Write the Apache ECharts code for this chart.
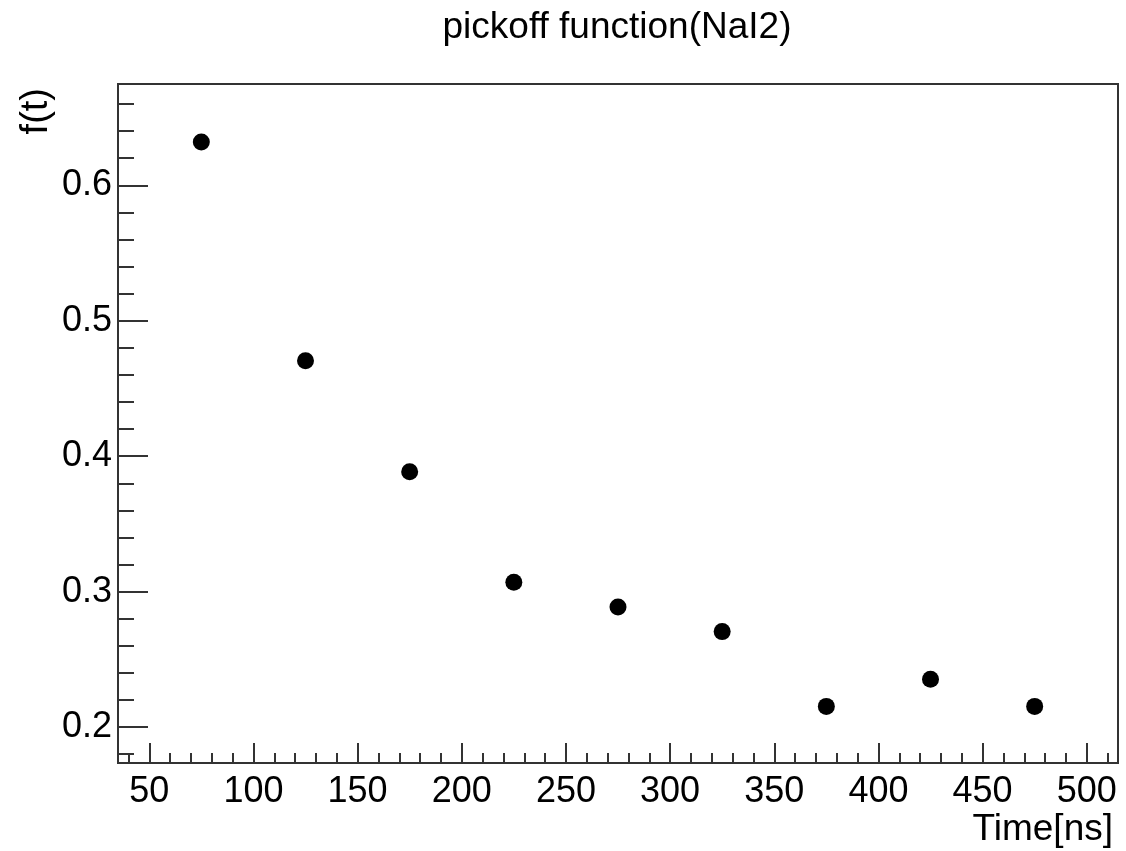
<!DOCTYPE html>
<html>
<head>
<meta charset="utf-8">
<script src="https://cdn.jsdelivr.net/npm/echarts@6/dist/echarts.min.js"></script>
<style>
html,body{margin:0;padding:0;background:#fff;}
#chart{width:1126px;height:851px;}
</style>
</head>
<body>
<div id="chart"></div>
<script>
// Data
var times = [75, 125, 175, 225, 275, 325, 375, 425, 475];
var fValues = [0.632, 0.4705, 0.3885, 0.307, 0.2887, 0.2705, 0.2153, 0.2353, 0.2153];

// Tick labels / positions
var xMajorTicks = [50, 100, 150, 200, 250, 300, 350, 400, 450, 500];
var xMinorTicks = [40, 50, 60, 70, 80, 90, 100, 110, 120, 130, 140, 150, 160, 170, 180, 190, 200, 210, 220, 230, 240, 250, 260, 270, 280, 290, 300, 310, 320, 330, 340, 350, 360, 370, 380, 390, 400, 410, 420, 430, 440, 450, 460, 470, 480, 490, 500, 510];
var yMajorTicks = [0.2, 0.3, 0.4, 0.5, 0.6];
var yMinorTicks = [0.18, 0.2, 0.22, 0.24, 0.26, 0.28, 0.3, 0.32, 0.34, 0.36, 0.38, 0.4, 0.42, 0.44, 0.46, 0.48, 0.5, 0.52, 0.54, 0.56, 0.58, 0.6, 0.62, 0.64, 0.66];

var xRange = [35, 515];
var yRange = [0.1735, 0.6748];

var FONT = '"Liberation Sans", Arial, Helvetica, sans-serif';
var AX = '#333';

var chart = echarts.init(document.getElementById('chart'), null, {renderer: 'canvas'});

var option = {
  backgroundColor: '#ffffff',
  animation: false,
  title: {
    text: 'pickoff function(NaI2)',
    left: 612,
    top: 4,
    textAlign: 'center',
    textStyle: {fontFamily: FONT, fontSize: 37, fontWeight: 'normal', color: '#000'}
  },
  grid: {
    left: 118, right: 8, top: 84, bottom: 88,
    show: true, borderColor: AX, borderWidth: 2, backgroundColor: 'transparent'
  },
  xAxis: [
    {
      type: 'value', min: xRange[0], max: xRange[1], position: 'bottom',
      name: 'Time[ns]', nameLocation: 'end', nameGap: -5,
      nameTextStyle: {fontFamily: FONT, fontSize: 37, color: '#000', align: 'right', verticalAlign: 'top', padding: [48, 0, 0, 0]},
      axisLine: {show: true, onZero: false, lineStyle: {color: AX, width: 2}},
      axisTick: {show: true, inside: true, length: 20, customValues: xMajorTicks, lineStyle: {color: AX, width: 2}},
      axisLabel: {show: true, customValues: xMajorTicks, margin: 11, fontFamily: FONT, fontSize: 36, color: '#000'},
      splitLine: {show: false}
    },
    {
      type: 'value', min: xRange[0], max: xRange[1], position: 'bottom', offset: 0,
      axisLine: {show: false},
      axisTick: {show: true, inside: true, length: 10, customValues: xMinorTicks, lineStyle: {color: AX, width: 2}},
      axisLabel: {show: false},
      splitLine: {show: false}
    }
  ],
  yAxis: [
    {
      type: 'value', min: yRange[0], max: yRange[1], position: 'left',
      name: 'f(t)', nameLocation: 'end', nameGap: -4, nameRotate: 90,
      nameTextStyle: {fontFamily: FONT, fontSize: 38, color: '#000', align: 'right', verticalAlign: 'bottom', padding: [0, 0, 62, 0]},
      axisLine: {show: true, onZero: false, lineStyle: {color: AX, width: 2}},
      axisTick: {show: true, inside: true, length: 30, customValues: yMajorTicks, lineStyle: {color: AX, width: 2}},
      axisLabel: {show: true, customValues: yMajorTicks, margin: 6, fontFamily: FONT, fontSize: 36, color: '#000',
        formatter: function (v) { return v.toFixed(1); }},
      splitLine: {show: false}
    },
    {
      type: 'value', min: yRange[0], max: yRange[1], position: 'left', offset: 0,
      axisLine: {show: false},
      axisTick: {show: true, inside: true, length: 16, customValues: yMinorTicks, lineStyle: {color: AX, width: 2}},
      axisLabel: {show: false},
      splitLine: {show: false}
    }
  ],
  series: [
    {
      type: 'scatter',
      xAxisIndex: 0, yAxisIndex: 0,
      symbol: 'circle', symbolSize: 17,
      itemStyle: {color: '#000', opacity: 1},
      data: times.map(function (t, i) { return [t, fValues[i]]; })
    }
  ]
};
chart.setOption(option);
</script>
</body>
</html>
